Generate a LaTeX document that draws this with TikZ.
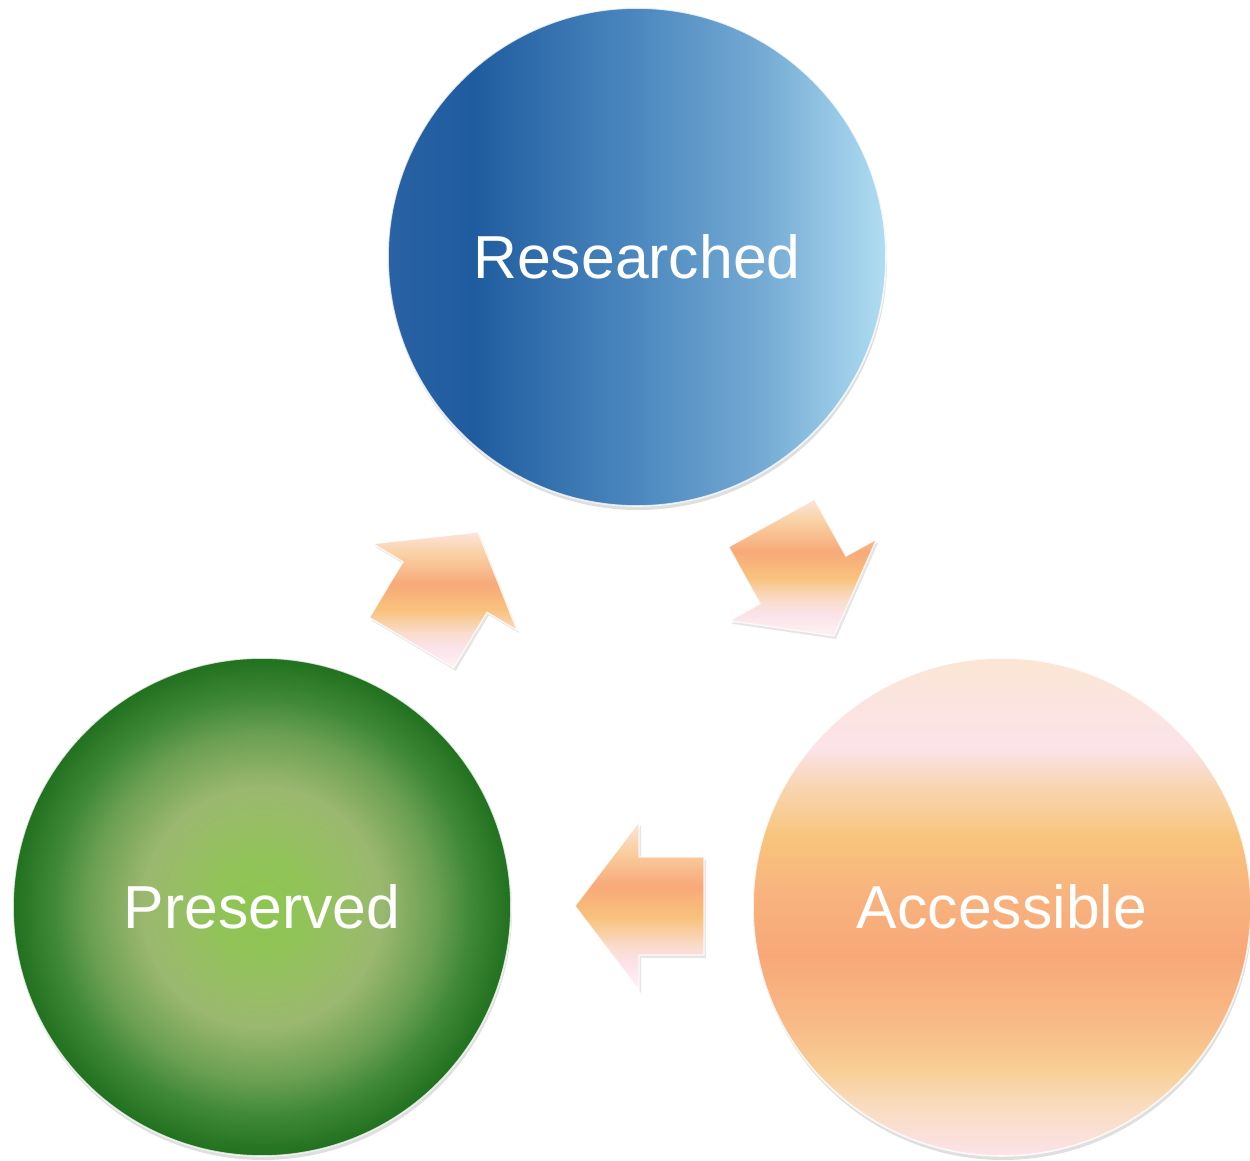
\documentclass[tikz,border=0pt]{standalone}
\usepackage{fontspec}
\setmainfont{Liberation Sans}
\usepackage{tikz}
\usetikzlibrary{calc}
\usetikzlibrary{shadows}
\definecolor{blueA}{HTML}{2962A5}
\definecolor{blueB}{HTML}{1F5C9F}
\definecolor{blueC}{HTML}{4C88BF}
\definecolor{blueD}{HTML}{74AAD3}
\definecolor{blueE}{HTML}{B0DDF2}
\definecolor{greenA}{HTML}{8CC64F}
\definecolor{greenB}{HTML}{92C35A}
\definecolor{greenC}{HTML}{9BB86F}
\definecolor{greenD}{HTML}{6A9F52}
\definecolor{greenE}{HTML}{3F8838}
\definecolor{greenF}{HTML}{21711F}
\definecolor{peachA}{HTML}{FBE5D3}
\definecolor{peachB}{HTML}{FBE3EA}
\definecolor{peachC}{HTML}{F8D5B0}
\definecolor{peachD}{HTML}{F8C47C}
\definecolor{peachE}{HTML}{F8B27E}
\definecolor{peachF}{HTML}{F8A878}
\definecolor{peachG}{HTML}{F8BB88}
\definecolor{peachH}{HTML}{F8CF96}
\definecolor{peachI}{HTML}{F9DCC0}
\definecolor{peachJ}{HTML}{FBE3E8}
\definecolor{turnA}{HTML}{FCE3DC}
\definecolor{turnB}{HTML}{F9D3A6}
\definecolor{turnC}{HTML}{F8A979}
\definecolor{turnD}{HTML}{F8C27C}
\definecolor{turnE}{HTML}{FADDD0}
\definecolor{turnF}{HTML}{FBE3EA}
\definecolor{turnG}{HTML}{FEF2F2}
\pgfdeclarehorizontalshading{researchedfill}{100bp}{color(0bp)=(blueA); color(25bp)=(blueA); color(33.5bp)=(blueB); color(50bp)=(blueC); color(62.5bp)=(blueD); color(75bp)=(blueE); color(100bp)=(blueE)}
\pgfdeclareradialshading{preservedfill}{\pgfpoint{0bp}{0bp}}{color(0bp)=(greenA); color(5bp)=(greenB); color(12bp)=(greenC); color(17.5bp)=(greenD); color(21bp)=(greenE); color(25bp)=(greenF); color(50bp)=(greenF)}
\pgfdeclareverticalshading{accessiblefill}{100bp}{color(0bp)=(peachJ); color(25bp)=(peachJ); color(30bp)=(peachI); color(33.5bp)=(peachH); color(38bp)=(peachG); color(45bp)=(peachF); color(51bp)=(peachE); color(57bp)=(peachD); color(62bp)=(peachC); color(66bp)=(peachB); color(75bp)=(peachA); color(100bp)=(peachA)}
\pgfdeclareverticalshading{turnfill}{100bp}{color(0bp)=(turnG); color(25bp)=(turnG); color(32.5bp)=(turnF); color(37.5bp)=(turnE); color(46.5bp)=(turnD); color(56bp)=(turnC); color(67.5bp)=(turnB); color(75bp)=(turnA); color(100bp)=(turnA)}
\tikzstyle{stage}=[circle,inner sep=0mm,minimum size=498pt,draw=white,draw opacity=0.8,line width=1.6pt,text=white,font=\fontsize{60.7}{70}\selectfont,drop shadow={opacity=0.25,shadow xshift=1pt,shadow yshift=-4pt}]
\tikzstyle{turn}=[shade,shading=turnfill,draw=white,draw opacity=0.8,line width=1.2pt,drop shadow={opacity=0.2,shadow xshift=2pt,shadow yshift=-3pt}]
\newcommand\turnarrow[2]{%
  \path[turn] ($(#1)+(#2:-65)+({#2+90}:49)$) -- ($(#1)+({#2+90}:49)$) -- ($(#1)+({#2+90}:84)$)
    -- ($(#1)+(#2:64)$) -- ($(#1)+({#2-90}:84)$) -- ($(#1)+({#2-90}:49)$)
    -- ($(#1)+(#2:-65)+({#2-90}:49)$) -- cycle;
}

\begin{document}
\begin{tikzpicture}[x=1pt,y=1pt]
      \useasboundingbox (0,0) rectangle (1250,1160);
      \node[stage,shade,shading=researchedfill] at (637,903) (researched) {Researched};
      \node[stage,shade,shading=preservedfill] at (262,253) (preserved) {Preserved};
      \node[stage,shade,shading=accessiblefill] at (1002,253) (accessible) {Accessible};
      \coordinate (toresearched) at (445,573);
      \coordinate (toaccessible) at (803,580);
      \coordinate (topreserved) at (639,254);
      \turnarrow{toresearched}{59}
      \turnarrow{toaccessible}{-61}
      \turnarrow{topreserved}{180}
    \end{tikzpicture}
\end{document}
